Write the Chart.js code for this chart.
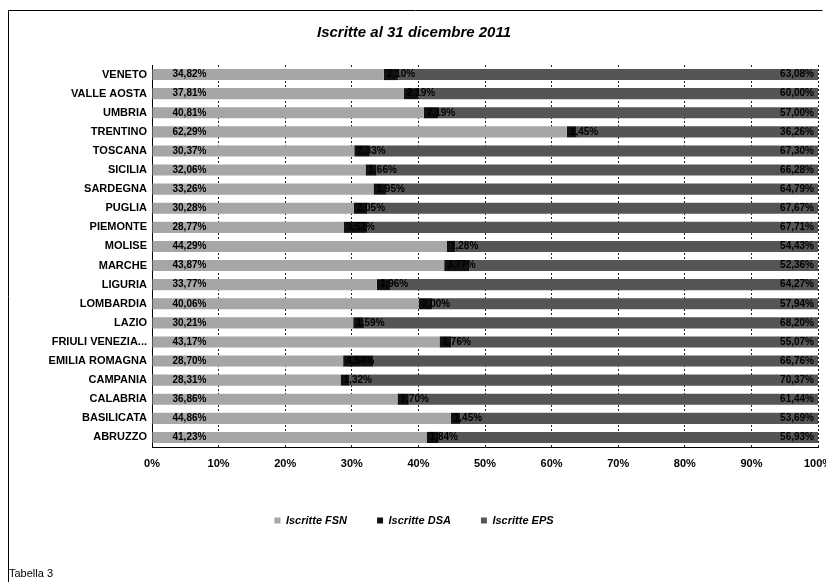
<!DOCTYPE html>
<html>
<head>
<meta charset="utf-8">
<script src="https://cdn.jsdelivr.net/npm/chart.js@4"></script>
<style>
    html, body { margin: 0; padding: 0; background: #fff; }
    #wrap { position: relative; width: 826px; height: 582px; }
    #note {
        position: absolute; left: 9px; top: 567px;
        font: 11px "Liberation Sans", Arial, sans-serif; color: #000;
    }
</style>
</head>
<body>
<div id="wrap">
    <canvas id="chart" width="826" height="582"></canvas>
    <div id="note">Tabella 3</div>
</div>
<script>
const regions = [
    "VENETO", "VALLE AOSTA", "UMBRIA", "TRENTINO", "TOSCANA", "SICILIA",
    "SARDEGNA", "PUGLIA", "PIEMONTE", "MOLISE", "MARCHE", "LIGURIA",
    "LOMBARDIA", "LAZIO", "FRIULI VENEZIA...", "EMILIA ROMAGNA", "CAMPANIA",
    "CALABRIA", "BASILICATA", "ABRUZZO"
];

// percentuali
const fsn = [34.82, 37.81, 40.81, 62.29, 30.37, 32.06, 33.26, 30.28, 28.77, 44.29,
             43.87, 33.77, 40.06, 30.21, 43.17, 28.70, 28.31, 36.86, 44.86, 41.23];
const dsa = [2.10, 2.19, 2.19, 1.45, 2.33, 1.66, 1.95, 2.05, 3.52, 1.28,
             3.77, 1.96, 2.00, 1.59, 1.76, 4.54, 1.32, 1.70, 1.45, 1.84];
const eps = [63.08, 60.00, 57.00, 36.26, 67.30, 66.28, 64.79, 67.67, 67.71, 54.43,
             52.36, 64.27, 57.94, 68.20, 55.07, 66.76, 70.37, 61.44, 53.69, 56.93];

const ticks = ["0%", "10%", "20%", "30%", "40%", "50%", "60%", "70%", "80%", "90%", "100%"];

const fmt = v => v.toFixed(2).replace(".", ",") + "%";

// valori sulle barre + cornice
const labelsPlugin = {
    id: "barLabels",
    afterDatasetsDraw(chart) {
        const ctx = chart.ctx;
        ctx.save();
        ctx.font = "bold 10px 'Liberation Sans', Arial, sans-serif";
        ctx.fillStyle = "#000";
        ctx.textBaseline = "middle";
        chart.getDatasetMeta(0).data.forEach((bar, i) => {
            ctx.textAlign = "left";
            ctx.fillText(fmt(fsn[i]), bar.base + 20, bar.y);
        });
        chart.getDatasetMeta(1).data.forEach((bar, i) => {
            ctx.textAlign = "left";
            ctx.fillText(fmt(dsa[i]), bar.base + 3, bar.y);
        });
        chart.getDatasetMeta(2).data.forEach((bar, i) => {
            ctx.textAlign = "right";
            ctx.fillText(fmt(eps[i]), bar.x - 4, bar.y);
        });
        ctx.restore();
    },
    afterDraw(chart) {
        const ctx = chart.ctx;
        ctx.save();
        ctx.strokeStyle = "#000";
        ctx.lineWidth = 1;
        ctx.beginPath();
        ctx.moveTo(8.5, 582);
        ctx.lineTo(8.5, 10.5);
        ctx.lineTo(822.5, 10.5);
        ctx.stroke();
        ctx.restore();
    }
};

new Chart(document.getElementById("chart"), {
    type: "bar",
    data: {
        labels: regions,
        datasets: [
            { label: "Iscritte FSN", data: fsn, backgroundColor: "#a6a6a6" },
            { label: "Iscritte DSA", data: dsa, backgroundColor: "#111111" },
            { label: "Iscritte EPS", data: eps, backgroundColor: "#555555" }
        ]
    },
    options: {
        indexAxis: "y",
        responsive: false,
        animation: false,
        barPercentage: 0.58,
        categoryPercentage: 1,
        layout: { padding: { top: 10, left: 10, right: 8, bottom: 46 } },
        scales: {
            x: {
                stacked: true,
                min: 0,
                max: 100,
                afterFit: s => { s.height = 38; s.paddingLeft = 0; s.paddingRight = 0; },
                border: { display: true, color: "#000", dash: [2, 2] },
                grid: { color: "#222", drawTicks: false },
                ticks: {
                    stepSize: 10,
                    padding: 10,
                    color: "#000",
                    font: { family: "'Liberation Sans', Arial, sans-serif", size: 11, weight: "bold" },
                    callback: (v, i) => ticks[i]
                }
            },
            y: {
                stacked: true,
                afterFit: s => { s.width = 142; },
                border: { display: true, color: "#000", dash: [2, 2] },
                grid: { display: false, drawTicks: false },
                ticks: {
                    padding: 5,
                    color: "#000",
                    font: { family: "'Liberation Sans', Arial, sans-serif", size: 11, weight: "bold" }
                }
            }
        },
        plugins: {
            title: {
                display: true,
                text: "Iscritte al 31 dicembre 2011",
                color: "#000",
                font: { family: "'Liberation Sans', Arial, sans-serif", size: 15, weight: "bold", style: "italic" },
                padding: { top: 14, bottom: 23 }
            },
            legend: {
                position: "bottom",
                labels: {
                    boxWidth: 6,
                    boxHeight: 6,
                    padding: 30,
                    color: "#000",
                    font: { family: "'Liberation Sans', Arial, sans-serif", size: 11, weight: "bold", style: "italic" }
                }
            },
            tooltip: { enabled: false }
        }
    },
    plugins: [labelsPlugin]
});
</script>
</body>
</html>
